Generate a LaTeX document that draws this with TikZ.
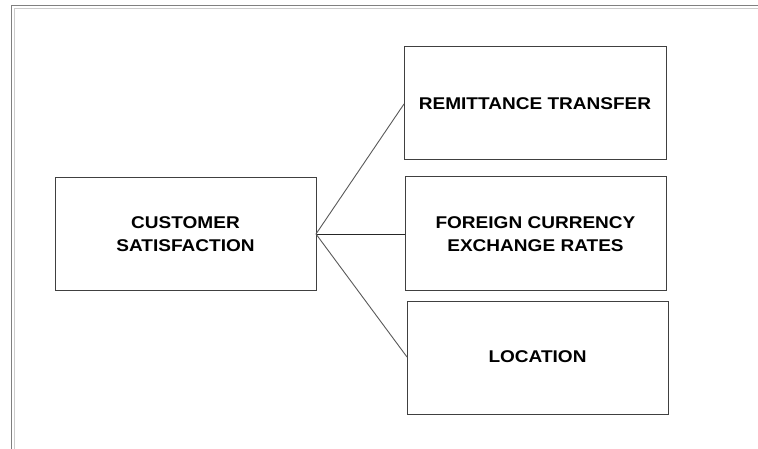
\documentclass[tikz,border=0pt]{standalone}
\usepackage{fontspec}
\setmainfont{Liberation Sans}
\begin{document}
\begin{tikzpicture}[x=1pt,y=-1pt,
  boxstyle/.style={draw=black!75, line width=1pt, inner sep=0pt},
  labelstyle/.style={font=\fontsize{17}{23}\selectfont\bfseries, align=center, text=black},
  linkstyle/.style={draw=black!65, line width=0.9pt}]
\useasboundingbox (0,0) rectangle (758,449);
% frame
\draw[black!50, line width=1.2pt] (11.5,449) -- (11.5,5.5) -- (758,5.5);
\draw[black!20, line width=1.2pt] (14.5,449) -- (14.5,8.5) -- (758,8.5);
% boxes
\draw[boxstyle] (55,178) rectangle (316,290);
\node[labelstyle] (cs) at (185.5,234) {\scalebox{1.12}[1]{CUSTOMER}\\\scalebox{1.12}[1]{SATISFACTION}};
\coordinate (csr) at (316,234);
\draw[boxstyle] (404,47) rectangle (666,160);
\node[labelstyle] (rt) at (535,104) {\scalebox{1.12}[1]{REMITTANCE TRANSFER}};
\coordinate (rtl) at (404,104);
\draw[boxstyle] (405,177) rectangle (666,290);
\node[labelstyle] (fc) at (535.5,234) {\scalebox{1.12}[1]{FOREIGN CURRENCY}\\\scalebox{1.12}[1]{EXCHANGE RATES}};
\coordinate (fcl) at (405,234);
\draw[boxstyle] (407,301) rectangle (668,414);
\node[labelstyle] (lo) at (537.5,357) {\scalebox{1.12}[1]{LOCATION}};
\coordinate (lol) at (407,357);
% connectors
\draw[linkstyle] (csr) -- (rtl);
\draw[linkstyle, draw=black!85] (csr) -- (fcl);
\draw[linkstyle] (csr) -- (lol);
\end{tikzpicture}
\end{document}
